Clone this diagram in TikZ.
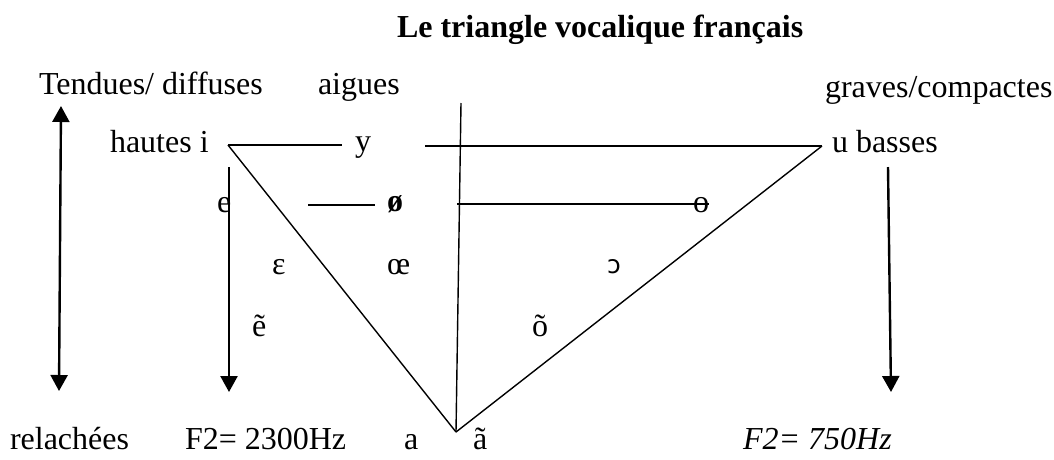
\documentclass[tikz,border=0pt]{standalone}
\usepackage{fontspec}
\setmainfont{Liberation Serif}
\newfontfamily\ipafont{DejaVu Sans}
\usetikzlibrary{arrows.meta}
\begin{document}
\begin{tikzpicture}[x=1pt,y=-1pt,
  txt/.style={anchor=base west, inner sep=0pt, outer sep=0pt, font=\fontsize{32}{36}\selectfont},
  trline/.style={line width=1.4pt},
  arr/.style={line width=2.4pt, -{Triangle[width=17pt,length=16pt]}},
  darr/.style={line width=2.4pt, {Triangle[width=17pt,length=16pt]}-{Triangle[width=17pt,length=16pt]}},
]
\useasboundingbox (0,0) rectangle (1054,459);

% texts
\node[txt,font=\fontsize{32}{36}\selectfont\bfseries] (title) at (397,37) {Le triangle vocalique français};
\node[txt] (td) at (39,94) {Tendues/ diffuses};
\node[txt] (aig) at (318,94) {aigues};
\node[txt] (gc) at (825,97) {graves/compactes};
\node[txt] (hi) at (110,152) {hautes i};
\node[txt] (y) at (355,151) {y};
\node[txt] (ub) at (832,152) {u basses};
\node[txt] (e) at (217,212) {e};
\node[txt,font=\fontsize{32}{36}\selectfont\bfseries] (oslash) at (387,211) {ø};
\node[txt] (o) at (693,212) {o};
\node[txt] (eps) at (272,274) {ε};
\node[txt] (oe) at (387,274) {œ};
\node[txt,font=\fontsize{25}{30}\ipafont] (openo) at (607,273) {ɔ};
\node[txt] (etil) at (252,336) {ẽ};
\node[txt] (otil) at (532,336) {õ};
\node[txt] (rel) at (10,449) {relachées};
\node[txt] (f2a) at (185,449) {F2= 2300Hz};
\node[txt] (a) at (404,449) {a};
\node[txt] (atil) at (473,449) {ã};
\node[txt,font=\fontsize{32}{36}\selectfont\itshape] (f2b) at (743,449) {F2= 750Hz};

% triangle vertices and line ends
\coordinate (I) at (228,145);
\coordinate (U) at (822,146);
\coordinate (A) at (456,432);
\coordinate (V) at (461,103);
\coordinate (Ly) at (342,145);
\coordinate (Ry) at (425,146);
\coordinate (La) at (308,205);
\coordinate (Lb) at (375,205);
\coordinate (Lc) at (457,204);
\coordinate (Ld) at (709,204);

\draw[trline] (I) -- (Ly);
\draw[trline] (Ry) -- (U);
\draw[trline] (I) -- (A);
\draw[trline] (U) -- (A);
\draw[trline] (V) -- (A);
\draw[trline] (La) -- (Lb);
\draw[trline] (Lc) -- (Ld);

% arrows
\coordinate (lTop) at (61,106);
\coordinate (lBot) at (59,391);
\coordinate (eTop) at (229,167);
\coordinate (eBot) at (229,392);
\coordinate (rTop) at (888,167);
\coordinate (rBot) at (891,392);
\draw[darr] (lTop) -- (lBot);
\draw[arr] (eTop) -- (eBot);
\draw[arr] (rTop) -- (rBot);
\end{tikzpicture}
\end{document}
